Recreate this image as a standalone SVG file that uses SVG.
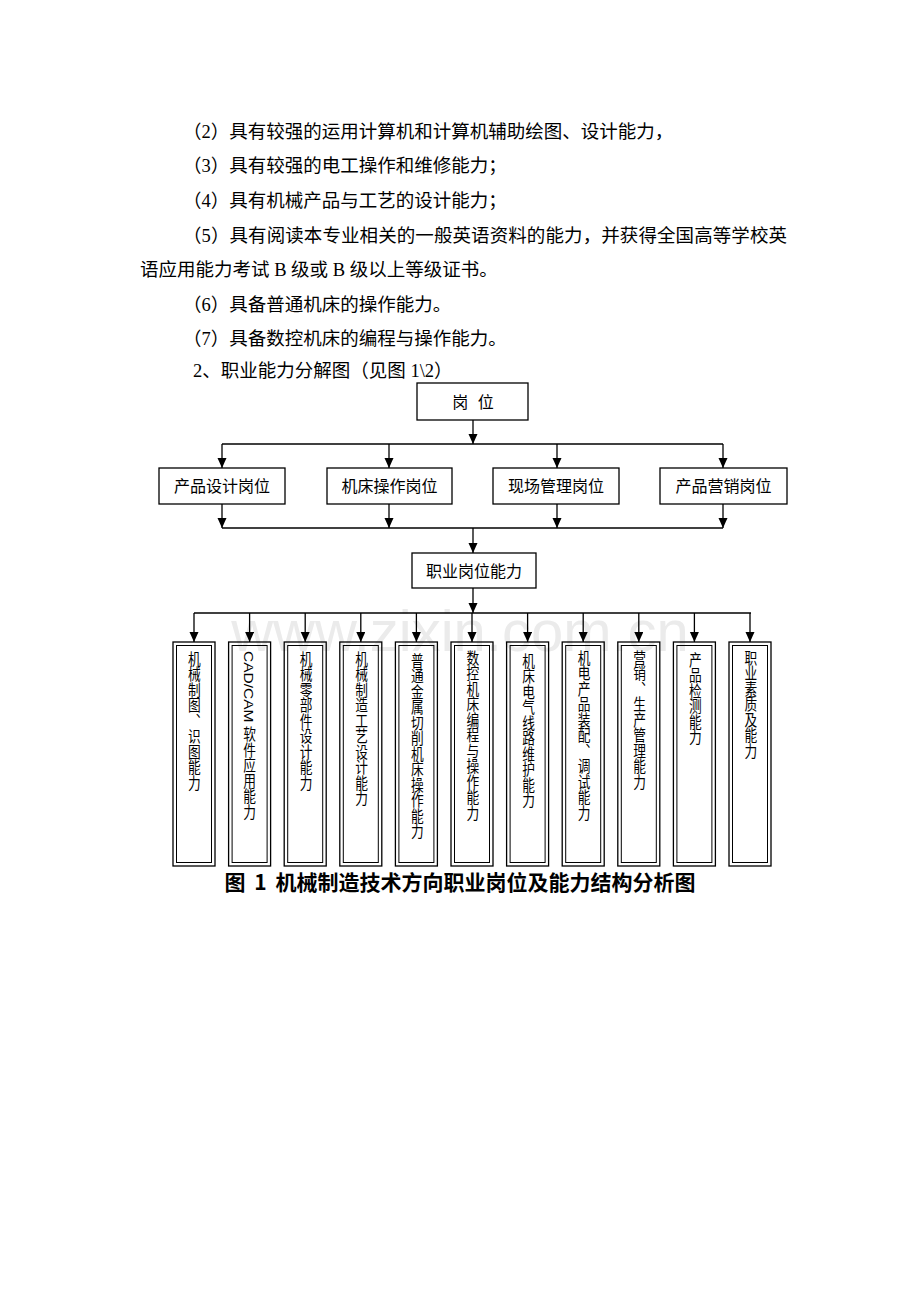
<svg xmlns="http://www.w3.org/2000/svg" width="920" height="1302" viewBox="0 0 920 1302">
<style>
.body{font-family:"Liberation Serif","Noto Sans CJK SC",serif;font-size:18.5px;fill:#000}
.box{fill:none;stroke:#000;stroke-width:1.3}
.obox{fill:none;stroke:#000;stroke-width:1.3}
.ibox{fill:none;stroke:#000;stroke-width:1}
.lbl{font-family:"Liberation Sans","Noto Sans CJK SC",sans-serif;font-size:16px;fill:#000;text-anchor:middle}
.vt{font-family:"Liberation Sans","Noto Sans CJK SC",sans-serif;font-size:15.5px;fill:#000;writing-mode:vertical-rl}
.con{fill:none;stroke:#000;stroke-width:1.3}
.arr{fill:none;stroke:#000;stroke-width:1.3;marker-end:url(#ah)}
.cap{font-family:"Noto Sans CJK SC",sans-serif;font-size:21px;font-weight:bold;fill:#000;text-anchor:middle;word-spacing:4px}
</style>
<defs>
<marker id="ah" markerUnits="userSpaceOnUse" markerWidth="10" markerHeight="10" refX="10" refY="4.5" orient="auto">
<path d="M0,0 L10,4.5 L0,9 z" fill="#000"/>
</marker>
</defs>
<rect width="920" height="1302" fill="#fff"/>
<g id="body-text">
<text class="body" x="183" y="138">（2）具有较强的运用计算机和计算机辅助绘图、设计能力，</text>
<text class="body" x="183" y="172">（3）具有较强的电工操作和维修能力；</text>
<text class="body" x="183" y="207">（4）具有机械产品与工艺的设计能力；</text>
<text class="body" x="183" y="242" textLength="604">（5）具有阅读本专业相关的一般英语资料的能力，并获得全国高等学校英</text>
<text class="body" x="140" y="276">语应用能力考试 B 级或 B 级以上等级证书。</text>
<text class="body" x="183" y="311">（6）具备普通机床的操作能力。</text>
<text class="body" x="183" y="345">（7）具备数控机床的编程与操作能力。</text>
<text class="body" x="193" y="377">2、职业能力分解图（见图 1\2）</text>
</g>
<text x="460" y="651" font-family="Liberation Sans,Arial,sans-serif" font-size="58" fill="#ebebeb" text-anchor="middle">www.zixin.com.cn</text>
<g id="connectors">
<path class="arr" d="M473,420 V444"/>
<path class="con" d="M222,444 H723"/>
<path class="arr" d="M222,444 V468"/>
<path class="arr" d="M389,444 V468"/>
<path class="arr" d="M557,444 V468"/>
<path class="arr" d="M723,444 V468"/>
<path class="arr" d="M222,504 V528"/>
<path class="arr" d="M389,504 V528"/>
<path class="arr" d="M557,504 V528"/>
<path class="arr" d="M723,504 V528"/>
<path class="con" d="M222,528 H723"/>
<path class="arr" d="M473,528 V553"/>
<path class="arr" d="M473,588 V613"/>
<path class="con" d="M194,613 H751"/>
<path class="arr" d="M194,613 V642"/>
<path class="arr" d="M249.6,613 V642"/>
<path class="arr" d="M305.2,613 V642"/>
<path class="arr" d="M360.8,613 V642"/>
<path class="arr" d="M416.4,613 V642"/>
<path class="arr" d="M472,613 V642"/>
<path class="arr" d="M527.6,613 V642"/>
<path class="arr" d="M583.2,613 V642"/>
<path class="arr" d="M638.8,613 V642"/>
<path class="arr" d="M694.4,613 V642"/>
<path class="arr" d="M750,613 V642"/>
</g>
<g id="n-gangwei"><rect class="box" x="417" y="383" width="111" height="37"/><text class="lbl" x="473" y="408" word-spacing="5">岗 位</text></g>
<g id="n-design"><rect class="box" x="159" y="468" width="126" height="36"/><text class="lbl" x="222" y="492">产品设计岗位</text></g>
<g id="n-machine"><rect class="box" x="327" y="468" width="125" height="36"/><text class="lbl" x="389.5" y="492">机床操作岗位</text></g>
<g id="n-site"><rect class="box" x="493" y="468" width="126" height="36"/><text class="lbl" x="556" y="492">现场管理岗位</text></g>
<g id="n-sales"><rect class="box" x="660" y="468" width="127" height="36"/><text class="lbl" x="723.5" y="492">产品营销岗位</text></g>
<g id="n-ability"><rect class="box" x="412" y="553" width="124" height="35"/><text class="lbl" x="474" y="577">职业岗位能力</text></g>
<g id="a1"><rect class="obox" x="173" y="642" width="42" height="224"/><rect class="ibox" x="176.5" y="645.5" width="35" height="217"/><g transform="translate(193.5 651) scale(0.82 1)"><text class="vt" x="0" y="0">机械制图、识图能力</text></g></g>
<g id="a2"><rect class="obox" x="228.6" y="642" width="42" height="224"/><rect class="ibox" x="232.1" y="645.5" width="35" height="217"/><g transform="translate(248.6 651) scale(0.82 1)"><text class="vt" x="0" y="0">CAD/CAM 软件应用能力</text></g></g>
<g id="a3"><rect class="obox" x="284.2" y="642" width="42" height="224"/><rect class="ibox" x="287.7" y="645.5" width="35" height="217"/><g transform="translate(305.2 651) scale(0.82 1)"><text class="vt" x="0" y="0">机械零部件设计能力</text></g></g>
<g id="a4"><rect class="obox" x="339.8" y="642" width="42" height="224"/><rect class="ibox" x="343.3" y="645.5" width="35" height="217"/><g transform="translate(360.8 651) scale(0.82 1)"><text class="vt" x="0" y="0">机械制造工艺设计能力</text></g></g>
<g id="a5"><rect class="obox" x="395.4" y="642" width="42" height="224"/><rect class="ibox" x="398.9" y="645.5" width="35" height="217"/><g transform="translate(416.4 653) scale(0.82 1)"><text class="vt" x="0" y="0">普通金属切削机床操作能力</text></g></g>
<g id="a6"><rect class="obox" x="451" y="642" width="42" height="224"/><rect class="ibox" x="454.5" y="645.5" width="35" height="217"/><g transform="translate(472 650) scale(0.82 1)"><text class="vt" x="0" y="0">数控机床编程与操作能力</text></g></g>
<g id="a7"><rect class="obox" x="506.6" y="642" width="42" height="224"/><rect class="ibox" x="510.1" y="645.5" width="35" height="217"/><g transform="translate(527.6 653) scale(0.82 1)"><text class="vt" x="0" y="0">机床电气线路维护能力</text></g></g>
<g id="a8"><rect class="obox" x="562.2" y="642" width="42" height="224"/><rect class="ibox" x="565.7" y="645.5" width="35" height="217"/><g transform="translate(583.2 650) scale(0.82 1)"><text class="vt" x="0" y="0">机电产品装配、调试能力</text></g></g>
<g id="a9"><rect class="obox" x="617.8" y="642" width="42" height="224"/><rect class="ibox" x="621.3" y="645.5" width="35" height="217"/><g transform="translate(638.8 650) scale(0.82 1)"><text class="vt" x="0" y="0">营销、生产管理能力</text></g></g>
<g id="a10"><rect class="obox" x="673.4" y="642" width="42" height="224"/><rect class="ibox" x="676.9" y="645.5" width="35" height="217"/><g transform="translate(694.4 652) scale(0.82 1)"><text class="vt" x="0" y="0">产品检测能力</text></g></g>
<g id="a11"><rect class="obox" x="729" y="642" width="42" height="224"/><rect class="ibox" x="732.5" y="645.5" width="35" height="217"/><g transform="translate(750 650) scale(0.82 1)"><text class="vt" x="0" y="0">职业素质及能力</text></g></g>
<text class="cap" x="460" y="890">图 1 机械制造技术方向职业岗位及能力结构分析图</text>
</svg>
